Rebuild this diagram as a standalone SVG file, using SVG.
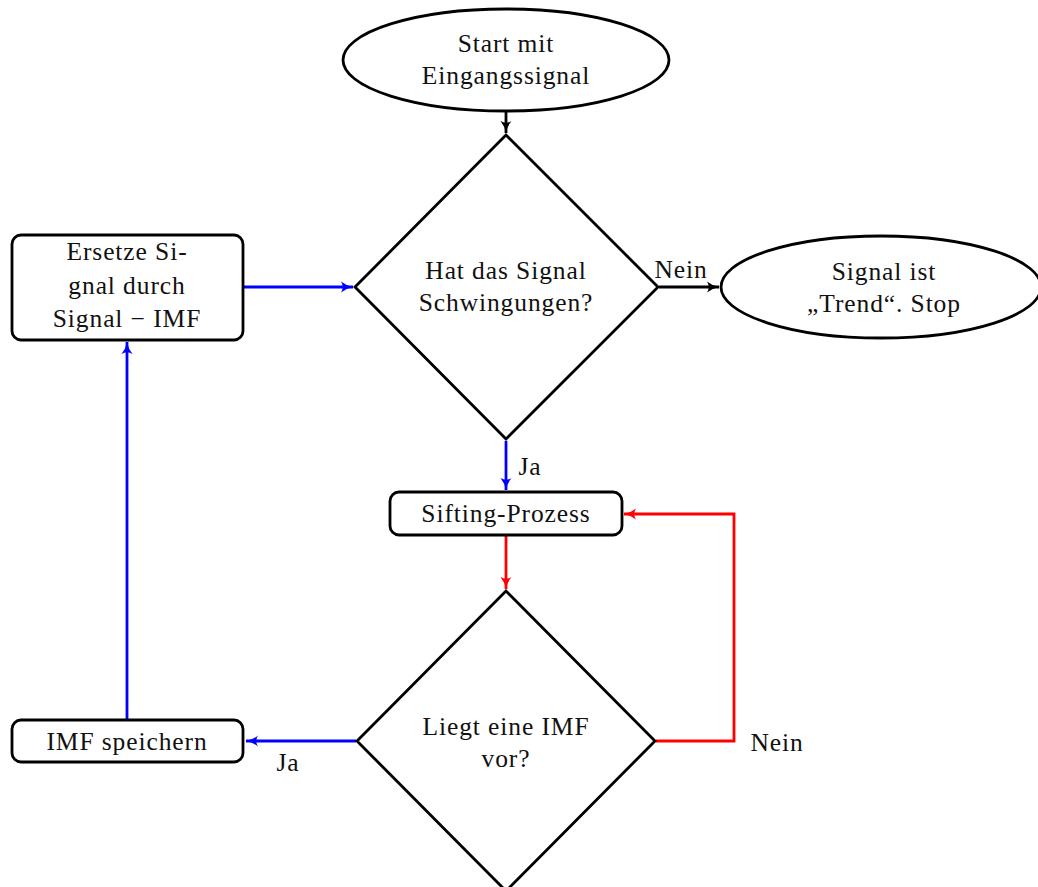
<svg xmlns="http://www.w3.org/2000/svg" width="1038" height="887" viewBox="0 0 1038 887">
<style>
.n{fill:#fff;stroke:#000;stroke-width:2.8}
.t{font-family:"Liberation Serif","DejaVu Serif",serif;font-size:25.5px;letter-spacing:0.9px;fill:#111;text-anchor:middle}
.c{fill:none;stroke-width:2.8}
</style>
<defs>
<marker id="ak" markerWidth="14" markerHeight="12" refX="12" refY="6" orient="auto" markerUnits="userSpaceOnUse"><path d="M0,0.5 Q5,4.6 12,6 Q5,7.4 0,11.5 Q3.5,6 0,0.5Z" fill="#000"/></marker>
<marker id="ab" markerWidth="14" markerHeight="12" refX="12" refY="6" orient="auto" markerUnits="userSpaceOnUse"><path d="M0,0.5 Q5,4.6 12,6 Q5,7.4 0,11.5 Q3.5,6 0,0.5Z" fill="#00f"/></marker>
<marker id="ar" markerWidth="14" markerHeight="12" refX="12" refY="6" orient="auto" markerUnits="userSpaceOnUse"><path d="M0,0.5 Q5,4.6 12,6 Q5,7.4 0,11.5 Q3.5,6 0,0.5Z" fill="#f00"/></marker>
</defs>
<rect width="1038" height="887" fill="#fff"/>
<g id="connectors">
<path class="c" stroke="#000" d="M506,112 V133" marker-end="url(#ak)"/>
<path class="c" stroke="#000" d="M659,287 H719" marker-end="url(#ak)"/>
<path class="c" stroke="#00f" d="M244,287 H353" marker-end="url(#ab)"/>
<path class="c" stroke="#00f" d="M506,441 V490" marker-end="url(#ab)"/>
<path class="c" stroke="#f00" d="M506,536 V589" marker-end="url(#ar)"/>
<path class="c" stroke="#f00" d="M656,741 H734 V514 H624" marker-end="url(#ar)"/>
<path class="c" stroke="#00f" d="M356,741 H246" marker-end="url(#ab)"/>
<path class="c" stroke="#00f" d="M127,719 V342" marker-end="url(#ab)"/>
<text class="t" x="681" y="278">Nein</text>
<text class="t" x="530" y="475">Ja</text>
<text class="t" x="777" y="751">Nein</text>
<text class="t" x="288" y="771">Ja</text>
</g>
<g id="start">
<ellipse class="n" cx="506" cy="60" rx="163" ry="51"/>
<text class="t" x="506" y="52">Start mit</text>
<text class="t" x="506" y="84">Eingangssignal</text>
</g>
<g id="dec1">
<polygon class="n" points="506,135 658,287 506,439 355,287"/>
<text class="t" x="506" y="279">Hat das Signal</text>
<text class="t" x="506" y="311">Schwingungen?</text>
</g>
<g id="trend">
<ellipse class="n" cx="881" cy="287" rx="160" ry="51"/>
<text class="t" x="884" y="280">Signal ist</text>
<text class="t" x="884" y="312">„Trend“. Stop</text>
</g>
<g id="ersetze">
<rect class="n" x="12" y="235" width="231" height="105" rx="9"/>
<text class="t" x="127" y="260">Ersetze Si-</text>
<text class="t" x="127" y="294">gnal durch</text>
<text class="t" x="127" y="327">Signal − IMF</text>
</g>
<g id="sifting">
<rect class="n" x="390" y="492" width="232" height="43" rx="9"/>
<text class="t" x="506" y="522">Sifting-Prozess</text>
</g>
<g id="dec2">
<polygon class="n" points="506,591 655,741 506,891 357,741"/>
<text class="t" x="506" y="735">Liegt eine IMF</text>
<text class="t" x="506" y="767">vor?</text>
</g>
<g id="speichern">
<rect class="n" x="12" y="720" width="231" height="42" rx="9"/>
<text class="t" x="127" y="750">IMF speichern</text>
</g>
</svg>
